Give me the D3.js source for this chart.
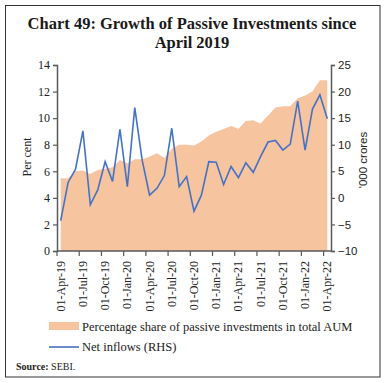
<!DOCTYPE html>
<html><head><meta charset="utf-8">
<script src="https://cdn.jsdelivr.net/npm/d3@7"></script>
<style>
html,body{margin:0;padding:0;background:#fff;}
svg{display:block;}
</style></head>
<body>
<svg id="c" width="385" height="383"></svg>
<script>
// ---- data ----
const months = ["Apr-19","May-19","Jun-19","Jul-19","Aug-19","Sep-19","Oct-19","Nov-19","Dec-19","Jan-20","Feb-20","Mar-20","Apr-20","May-20","Jun-20","Jul-20","Aug-20","Sep-20","Oct-20","Nov-20","Dec-20","Jan-21","Feb-21","Mar-21","Apr-21","May-21","Jun-21","Jul-21","Aug-21","Sep-21","Oct-21","Nov-21","Dec-21","Jan-22","Feb-22","Mar-22","Apr-22"];
const passiveShare = [5.47,5.47,6.0,6.06,5.8,6.1,6.2,6.3,6.85,6.6,6.9,6.9,7.1,7.35,7.0,7.7,8.0,8.0,7.95,8.25,8.7,8.98,9.18,9.4,9.2,9.78,9.85,9.6,10.2,10.8,10.9,10.9,11.5,11.7,12.0,12.85,12.85];
const netInflows = [-4.3,2.9,5.4,12.6,-1.3,1.5,6.8,3.1,12.9,2.1,17.0,7.1,0.5,1.8,4.2,13.1,2.1,4.0,-2.5,0.5,6.8,6.7,2.5,5.9,3.8,6.6,4.8,7.8,10.5,10.8,9.0,10.1,18.2,9.0,16.7,19.4,14.9];
const xTickLabels = ["01-Apr-19","01-Jul-19","01-Oct-19","01-Jan-20","01-Apr-20","01-Jul-20","01-Oct-20","01-Jan-21","01-Apr-21","01-Jul-21","01-Oct-21","01-Jan-22","01-Apr-22"];
const leftTicks = [0,2,4,6,8,10,12,14];
const rightTicks = [-10,-5,0,5,10,15,20,25];

const svg = d3.select("#c");
const serif = "'Liberation Serif','DejaVu Serif',serif";
const sans = "'Liberation Sans','DejaVu Sans',sans-serif";
const axisCol = "#595959";

// frame
svg.append("rect").attr("x",5.5).attr("y",5.5).attr("width",374.5).attr("height",371.5)
  .attr("fill","none").attr("stroke","#333").attr("stroke-width",1);

// title
svg.append("text").attr("x",192).attr("y",29).attr("text-anchor","middle")
  .attr("font-family",serif).attr("font-weight","bold").attr("font-size",16.5).attr("fill","#1a1a1a")
  .text("Chart 49: Growth of Passive Investments since");
svg.append("text").attr("x",192).attr("y",48).attr("text-anchor","middle")
  .attr("font-family",serif).attr("font-weight","bold").attr("font-size",16.5).attr("fill","#1a1a1a")
  .text("April 2019");

const L = 57, R = 331, T = 65, B = 251;
const x = d3.scaleBand().domain(months).range([L,R]).padding(0);
const cx = m => x(m) + x.bandwidth()/2;
const yL = d3.scaleLinear().domain([0,14]).range([B,T]);
const yR = d3.scaleLinear().domain([-10,25]).range([B,T]);

// area
const area = d3.area().x((d,i)=>cx(months[i])).y0(yL(0)).y1(d=>yL(d));
svg.append("path").datum(passiveShare).attr("d",area).attr("fill","#F7C4A0");

// line
const line = d3.line().x((d,i)=>cx(months[i])).y(d=>yR(d));
svg.append("path").datum(netInflows).attr("d",line).attr("fill","none")
  .attr("stroke","#4472C4").attr("stroke-width",1.6).attr("stroke-linejoin","miter");

// left axis
const gL = svg.append("g").attr("transform",`translate(${L},0)`)
  .call(d3.axisLeft(yL).tickValues(leftTicks).tickSize(4).tickPadding(3));
gL.select(".domain").attr("stroke",axisCol).attr("stroke-width",1.5);
gL.selectAll(".tick line").attr("stroke",axisCol).attr("stroke-width",1.2);
gL.selectAll(".tick text").attr("font-family",serif).attr("font-size",12).attr("fill","#222");

// right axis
const gR = svg.append("g").attr("transform",`translate(${R},0)`)
  .call(d3.axisRight(yR).tickValues(rightTicks).tickSize(4).tickPadding(3));
gR.select(".domain").attr("stroke",axisCol).attr("stroke-width",1.5);
gR.selectAll(".tick line").attr("stroke",axisCol).attr("stroke-width",1.2);
gR.selectAll(".tick text").attr("font-family",sans).attr("font-size",11.5).attr("fill","#222");

// x axis
const tickMonths = months.filter((m,i)=>i%3===0);
const gX = svg.append("g").attr("transform",`translate(0,${B})`);
gX.append("line").attr("x1",L).attr("x2",R).attr("y1",0).attr("y2",0).attr("stroke",axisCol).attr("stroke-width",1.5);
gX.selectAll("line.tk").data(tickMonths).enter().append("line").attr("class","tk")
  .attr("x1",d=>x(d)).attr("x2",d=>x(d)).attr("y1",0).attr("y2",5).attr("stroke",axisCol).attr("stroke-width",1.2);
gX.selectAll("text.tl").data(tickMonths).enter().append("text").attr("class","tl")
  .attr("transform",(d,i)=>`translate(${cx(d)+4},10) rotate(-90)`)
  .attr("text-anchor","end").attr("font-family",serif).attr("font-size",12).attr("fill","#222")
  .text((d,i)=>xTickLabels[i]);

// axis titles
svg.append("text").attr("transform","translate(31,157) rotate(-90)").attr("text-anchor","middle")
  .attr("font-family",serif).attr("font-size",12).attr("fill","#222").text("Per cent");
svg.append("text").attr("transform","translate(367,160) rotate(-90)").attr("text-anchor","middle")
  .attr("font-family",sans).attr("font-size",11.5).attr("fill","#222").text("'000 crores");

// legend
svg.append("rect").attr("x",49).attr("y",322).attr("width",30).attr("height",8).attr("fill","#F7C4A0");
svg.append("text").attr("x",82).attr("y",331).attr("font-family",serif).attr("font-size",12.5).attr("fill","#222")
  .text("Percentage share of passive investments in total AUM");
svg.append("line").attr("x1",49).attr("x2",79).attr("y1",347).attr("y2",347).attr("stroke","#4472C4").attr("stroke-width",1.6);
svg.append("text").attr("x",82).attr("y",351).attr("font-family",serif).attr("font-size",12.5).attr("fill","#222")
  .text("Net inflows (RHS)");

// source
const src = svg.append("text").attr("x",16).attr("y",370).attr("font-family",serif).attr("font-size",10).attr("fill","#222");
src.append("tspan").attr("font-weight","bold").text("Source: ");
src.append("tspan").text("SEBI.");
</script>
</body></html>
